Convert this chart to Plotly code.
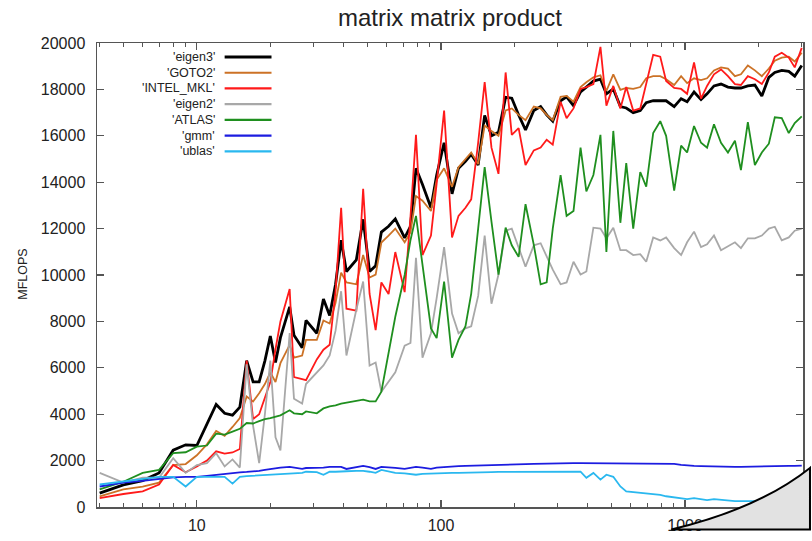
import math
import plotly.graph_objects as go

# ---------------- data ----------------
sizes = [4, 5, 6, 7, 8, 9, 10, 11, 12, 13, 14, 15, 16, 17, 18, 19, 20, 21, 22, 24,
         25, 27, 28, 31, 33, 35, 37, 39, 41, 45, 48, 51, 54, 57, 61, 65, 71, 75, 79, 84,
         91, 96, 103, 111, 118, 126, 133, 142, 151, 161, 172, 184, 195, 208, 222, 240,
         256, 271, 287, 309, 327, 349, 373, 394, 421, 450, 476, 508, 543, 574, 613, 655,
         693, 740, 791, 836, 902, 963, 1019, 1088, 1162, 1230, 1313, 1403, 1498, 1600,
         1693, 1807, 1931, 2062, 2203, 2330, 2488, 2658, 2812, 3004]

eigen3 = [600, 950, 1140, 1470, 2450, 2680, 2650, 3600, 4420, 4040, 3960, 4300, 6310, 5390,
          5390, 6300, 7370, 6230, 7300, 8630, 7400, 6860, 8040, 7490, 8970, 8250, 9600, 11500,
          10150, 10650, 12400, 10150, 10400, 11850, 12100, 12420, 11600, 12100, 14600, 13900,
          12900, 14300, 15700, 13500, 14600, 14900, 15200, 14740, 16880, 16000, 16150, 17660,
          17620, 16900, 16250, 17090, 17260, 16900, 16630, 17510, 17680, 17300, 17890, 18100,
          18360, 18440, 17810, 18020, 17260, 17200, 17000, 17090, 17430, 17510, 17510, 17510,
          17260, 17600, 17470, 17890, 17560, 17810, 18150, 18230, 18100, 18060, 18060, 18150,
          18190, 17720, 18520, 18730, 18820, 18780, 18570, 19030]

goto2 = [460, 760, 880, 1050, 1810, 1850, 2230, 2700, 3280, 3070, 3450, 3830, 4760, 4550,
         4900, 5300, 5800, 5390, 6200, 6990, 6440, 6530, 7200, 7200, 8040, 7910, 8800, 10100,
         9680, 9600, 10860, 9890, 10020, 11400, 11700, 12000, 11410, 11830, 13400, 13200,
         12760, 14100, 14600, 13800, 14650, 15000, 15280, 14780, 16440, 16210, 16000, 17090,
         17180, 16900, 16670, 17260, 17180, 16900, 16670, 17680, 17720, 17470, 18100, 18310,
         18520, 18610, 17930, 18650, 17980, 18060, 18020, 18100, 18480, 18570, 18570, 18440,
         18190, 18570, 18270, 18480, 18400, 18480, 18820, 18950, 18900, 18570, 18650, 19030,
         18820, 18570, 18900, 19240, 19370, 19410, 19200, 19580]

intel_mkl = [379, 560, 674, 970, 1810, 1500, 1750, 2000, 2400, 2300, 2350, 2500, 6310, 3790,
             4000, 4700, 5390, 6800, 8000, 9400, 5600, 5510, 5470, 6360, 6780, 6990, 9300, 12900,
             8550, 8460, 13720, 9180, 7620, 9680, 9180, 10990, 9260, 12500, 16040, 10860,
             11700, 13940, 17090, 11620, 12550, 12900, 13260, 15700, 18310, 15490, 14360, 18730,
             16040, 16330, 14740, 15370, 15490, 15830, 15620, 17470, 16760, 17180, 18020, 18100,
             18230, 19830, 17300, 18150, 17180, 18100, 17090, 17180, 18300, 19490, 19410, 18360,
             18060, 18020, 17810, 19160, 17600, 18150, 18650, 18860, 18570, 18230, 18190, 18570,
             18440, 18230, 18730, 19410, 19580, 19370, 18950, 19790]

eigen2 = [1470, 1050, 1260, 1260, 2100, 1470, 1810, 1890, 2320, 1750, 2050, 1700, 6150, 3500,
          1890, 4000, 6310, 3000, 2440, 7500, 4670, 4460, 5300, 5800, 6100, 6530, 7600, 9300,
          6530, 8500, 9720, 6100, 6230, 4970, 5400, 5810, 6950, 7070, 10740, 6440, 7490, 9000,
          11200, 8340, 7490, 7700, 7790, 9100, 11700, 8760, 10020, 11910, 12000, 11160, 10360,
          11280, 11370, 10800, 10230, 9600, 9680, 10570, 10020, 10150, 12040, 12000, 11580,
          12040, 11070, 11070, 10860, 10900, 10570, 11620, 11490, 11620, 11160, 10860, 11410,
          11870, 11200, 11320, 11700, 11070, 11240, 11410, 11160, 11580, 11580, 11700, 12000,
          12080, 11490, 11620, 11910, 12000]

atlas = [758, 1090, 1470, 1600, 2320, 2360, 2600, 2650, 3160, 3120, 3250, 3370, 3620, 3600,
         3700, 3790, 3830, 3900, 3950, 4170, 4040, 4000, 4120, 4040, 4250, 4340, 4380, 4460,
         4500, 4550, 4630, 4550, 4550, 4970, 6700, 8200, 10000, 11500, 12550, 10500, 7700,
         7280, 9720, 6440, 7200, 7790, 9200, 12000, 14650, 12300, 10020, 12040, 11280, 10780,
         13050, 11300, 9600, 9680, 12000, 14310, 12550, 12760, 15490, 13600, 14310, 16040,
         10990, 16210, 12250, 14820, 12000, 14440, 13810, 16120, 16630, 16000, 13640, 15580,
         15280, 16420, 15700, 15490, 16500, 15700, 15280, 15790, 14520, 16590, 14740, 15280,
         15660, 16800, 16760, 16120, 16550, 16840]

gmm = [884, 1050, 1130, 1220, 1280, 1300, 1300, 1340, 1390, 1430, 1470, 1490, 1510, 1520,
       1560, 1600, 1640, 1680, 1700, 1730, 1700, 1640, 1680, 1680, 1700, 1730, 1720, 1730,
       1640, 1700, 1770, 1720, 1640, 1730, 1720, 1690, 1640, 1700, 1730, 1700, 1640, 1700,
       1730, 1750, 1760, 1770, 1780, 1790, 1800, 1800, 1810, 1820, 1830, 1840, 1850, 1860,
       1870, 1870, 1880, 1880, 1890, 1890, 1890, 1890, 1890, 1890, 1890, 1890, 1890, 1890,
       1890, 1890, 1890, 1890, 1890, 1880, 1860, 1820, 1790, 1770, 1760, 1750, 1750, 1740,
       1740, 1730, 1730, 1740, 1750, 1750, 1760, 1760, 1770, 1770, 1770, 1780]

ublas = [970, 1100, 1180, 1300, 1300, 884, 1300, 1300, 1300, 1300, 1010, 1300, 1330, 1350,
         1360, 1370, 1380, 1390, 1420, 1450, 1470, 1470, 1520, 1500, 1390, 1520, 1520, 1540,
         1540, 1560, 1560, 1520, 1470, 1600, 1520, 1470, 1450, 1420, 1390, 1430, 1450, 1460,
         1470, 1470, 1470, 1470, 1480, 1490, 1500, 1500, 1510, 1510, 1520, 1520, 1520, 1520,
         1520, 1520, 1520, 1520, 1520, 1520, 1520, 1260, 1470, 1180, 1390, 1300, 884, 674,
         640, 600, 589, 560, 520, 463, 420, 360, 337, 379, 330, 295, 337, 300, 270, 253, 253,
         253, 253, 253, 253, 253, 253, 253, 253, 253]

series_names = ["'eigen3'", "'GOTO2'", "'INTEL_MKL'", "'eigen2'", "'ATLAS'", "'gmm'", "'ublas'"]
series_values = [eigen3, goto2, intel_mkl, eigen2, atlas, gmm, ublas]
series_colors = ["#000000", "#cc7226", "#ff1a1a", "#a8a8a8", "#1f8f1f", "#1c1ce0", "#2ab8ef"]
series_widths = [2.8, 1.8, 1.8, 1.8, 1.8, 1.8, 1.8]

x_major = [10, 100, 1000]
x_minor = [4, 5, 6, 7, 8, 9, 20, 30, 40, 50, 60, 70, 80, 90,
           200, 300, 400, 500, 600, 700, 800, 900, 2000, 3000]

# ---------------- figure ----------------
FONT = "Liberation Sans, Arial, Helvetica, sans-serif"
AX = "#555555"

fig = go.Figure()
for name, vals, col, w in zip(series_names, series_values, series_colors, series_widths):
    fig.add_trace(go.Scatter(x=sizes, y=vals, mode="lines", name=name,
                             line=dict(color=col, width=w), showlegend=False,
                             hoverinfo="skip"))

# plot-area pixel geometry
L, R, T, B = 97, 805, 43, 518
W, H = 812, 541


def px(xp):
    return (xp - L) / (R - L)


def py(yp):
    return (B - yp) / (B - T)


shapes = []
annotations = []

# manual gnuplot-style legend: text right-aligned, line sample to the right
for i, (name, col, w) in enumerate(zip(series_names, series_colors, series_widths)):
    yy = py(57.3 + 16.1 * i)
    annotations.append(dict(xref="paper", yref="paper", x=px(217), y=yy, text=name,
                            showarrow=False, xanchor="right", yanchor="middle",
                            font=dict(family=FONT, size=12.5, color="#222")))
    shapes.append(dict(type="line", xref="paper", yref="paper", x0=px(225), x1=px(272),
                       y0=yy, y1=yy, line=dict(color=col, width=w + 0.3)))

# y-axis title
annotations.append(dict(xref="paper", yref="paper", x=px(22), y=py(280), text="MFLOPS",
                        textangle=-90, showarrow=False, xanchor="center", yanchor="middle",
                        font=dict(family=FONT, size=12.5, color="#222")))

# page-curl decoration in the bottom-right corner
p0 = (px(673), py(541))
p1 = (px(760), py(520))
p2 = (px(812), py(478))
p3 = (px(812), py(541))
shapes.append(dict(type="path", xref="paper", yref="paper", layer="above",
                   path=f"M {p0[0]},{p0[1]} Q {p1[0]},{p1[1]} {p2[0]},{p2[1]} L {p3[0]},{p3[1]} Z",
                   fillcolor="#e2e2e2", line=dict(color="black", width=2)))

fig.update_layout(
    width=W, height=H,
    margin=dict(l=L, r=W - R, t=T, b=H - B),
    paper_bgcolor="white", plot_bgcolor="white",
    title=dict(text="matrix matrix product", x=px(451), xref="paper", xanchor="center",
               y=1 - 18 / H, yref="container", yanchor="middle",
               font=dict(family=FONT, size=24, color="#222")),
    font=dict(family=FONT, color="#222"),
    shapes=shapes, annotations=annotations,
    showlegend=False, hovermode=False,
)

fig.update_xaxes(type="log", range=[math.log10(3.9), math.log10(3040)],
                 tickvals=x_major, ticktext=[str(v) for v in x_major],
                 ticks="inside", ticklen=7, tickwidth=1.3, tickcolor=AX,
                 showline=True, linecolor=AX, linewidth=1.5, mirror="ticks",
                 showgrid=False, zeroline=False, ticklabelstandoff=3,
                 tickfont=dict(family=FONT, size=16, color="#222"),
                 minor=dict(tickvals=x_minor, ticks="inside", ticklen=4, tickwidth=1,
                            tickcolor=AX, showgrid=False))

fig.update_yaxes(range=[0, 20000], tick0=0, dtick=2000, tickformat="d",
                 ticks="inside", ticklen=7, tickwidth=1.3, tickcolor=AX,
                 showline=True, linecolor=AX, linewidth=1.5, mirror="ticks",
                 showgrid=False, zeroline=False, ticklabelstandoff=7,
                 tickfont=dict(family=FONT, size=16, color="#222"))

fig.write_html("out.html", config={"displayModeBar": False, "staticPlot": True},
               post_script="document.body.style.margin='0';document.body.style.overflow='hidden';")
